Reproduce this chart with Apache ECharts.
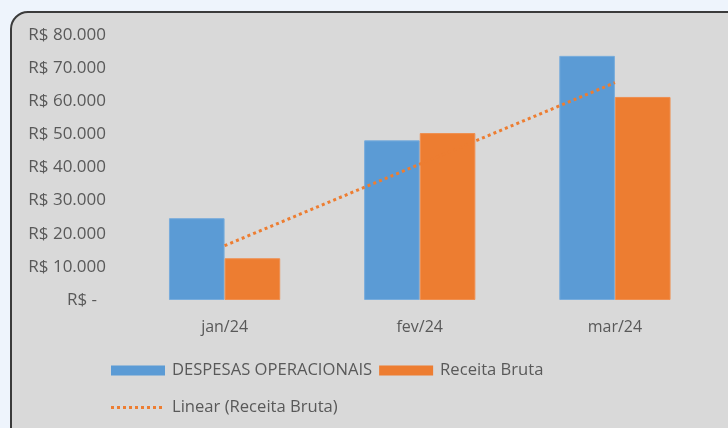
<!DOCTYPE html>
<html>
<head>
<meta charset="utf-8">
<script src="https://cdn.jsdelivr.net/npm/echarts@6/dist/echarts.min.js"></script>
<style>
  html, body { margin: 0; padding: 0; background: #eef4fc; width: 728px; height: 428px; overflow: hidden; }
  #box { position: absolute; left: 10px; top: 11px; width: 740px; height: 440px; box-sizing: border-box;
         border: 2px solid #3b3b3b; border-radius: 18px; background: #d9d9d9; }
  #chart { position: absolute; left: 0; top: 0; width: 728px; height: 428px; }
</style>
</head>
<body>
<div id="box"></div>
<div id="chart"></div>
<script>
const categories = ['jan/24', 'fev/24', 'mar/24'];
const despesas = [24700, 48200, 73700];
const receita = [12600, 50400, 61300];
const trendReceita = [16400, 41000, 65600];
const yTicks = [0, 10000, 20000, 30000, 40000, 50000, 60000, 70000, 80000];

const FONT = 'Open Sans';
const TXT = '#595959';

function fmt(v) {
  if (v === 0) return '{z|R$ -}';
  const th = Math.floor(v / 1000);
  return 'R$ ' + th + '.000';
}

let dots = '';
for (let i = 0; i < 9; i++) dots += 'M' + (i * 6) + ',0h3v3h-3z';
const dottedIcon = 'path://' + dots;

const chart = echarts.init(document.getElementById('chart'), null, { renderer: 'canvas' });
chart.setOption({
  backgroundColor: 'transparent',
  animation: false,
  textStyle: { fontFamily: FONT },
  grid: { left: 127, right: 15.5, top: 35, bottom: 128, containLabel: false },
  xAxis: {
    type: 'category',
    data: categories,
    axisLine: { show: false },
    axisTick: { show: false },
    axisLabel: { color: TXT, fontSize: 16, fontFamily: FONT, margin: 19 }
  },
  yAxis: {
    type: 'value',
    min: yTicks[0],
    max: yTicks[yTicks.length - 1],
    interval: yTicks[1] - yTicks[0],
    splitLine: { show: false },
    axisLine: { show: false },
    axisTick: { show: false },
    axisLabel: {
      color: TXT, fontSize: 17, fontFamily: FONT, margin: 21,
      formatter: fmt,
      rich: { z: { color: TXT, fontSize: 17, fontFamily: FONT, padding: [0, 9, 0, 0] } }
    }
  },
  legend: [
    {
      left: 111, top: 362, padding: 0, itemGap: 7, itemWidth: 54, itemHeight: 10,
      icon: 'rect',
      itemStyle: { borderWidth: 0 },
      data: ['DESPESAS OPERACIONAIS', 'Receita Bruta'],
      textStyle: { color: TXT, fontSize: 16.6, fontFamily: FONT, padding: [0, 0, 0, 2] }
    },
    {
      left: 111, top: 399, padding: 0, itemWidth: 51, itemHeight: 3,
      data: [{ name: 'Linear (Receita Bruta)', icon: dottedIcon }],
      itemStyle: { color: '#ed7d31', borderWidth: 0 },
      lineStyle: { width: 0 },
      textStyle: { color: TXT, fontSize: 16.6, fontFamily: FONT, padding: [0, 0, 0, 5] }
    }
  ],
  series: [
    {
      name: 'DESPESAS OPERACIONAIS', type: 'bar', data: despesas,
      barGap: '0%', barCategoryGap: '43%',
      itemStyle: { color: '#5b9bd5', borderColor: '#78acdc', borderWidth: 1 }
    },
    {
      name: 'Receita Bruta', type: 'bar', data: receita,
      barGap: '0%', barCategoryGap: '43%',
      itemStyle: { color: '#ed7d31', borderColor: '#ef8f50', borderWidth: 1 }
    },
    {
      name: 'Linear (Receita Bruta)', type: 'line', data: trendReceita,
      symbol: 'none', showSymbol: false,
      itemStyle: { color: '#ed7d31' },
      lineStyle: { color: '#ed7d31', width: 3, type: [3, 3.2] },
      z: 5
    }
  ]
});
</script>
</body>
</html>
